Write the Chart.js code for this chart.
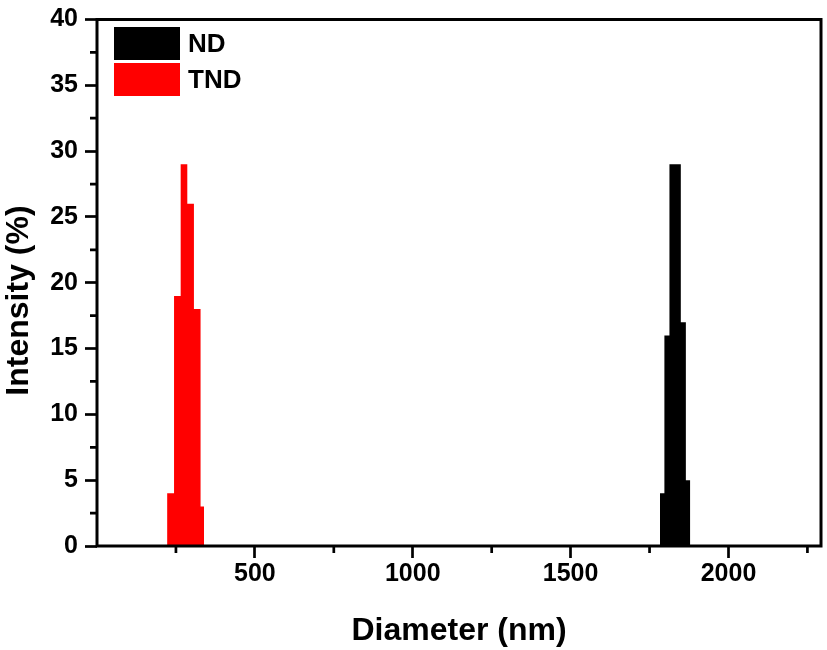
<!DOCTYPE html>
<html>
<head>
<meta charset="utf-8">
<script src="https://cdn.jsdelivr.net/npm/chart.js@4/dist/chart.umd.min.js"></script>
<style>
  html, body { margin: 0; padding: 0; background: #ffffff; }
  #wrap { width: 827px; height: 650px; }
</style>
</head>
<body>
<div id="wrap"><canvas id="c" width="827" height="650"></canvas></div>
<script>
// ---- data ----
const seriesNames = ['ND', 'TND'];
const seriesColors = ['#000000', '#ff0000'];
// histogram bin edges (nm) and intensities (%)
const ndBinEdges = [1783, 1797, 1813, 1849, 1865, 1879];
const ndIntensity = [4, 16, 29, 17, 5];
const tndBinEdges = [222, 244, 265, 286, 307, 328, 339];
const tndIntensity = [4, 19, 29, 26, 18, 3];
// axis ticks (labelled majors, unlabelled minors)
const xTickLabels = [500, 1000, 1500, 2000];
const xMinorTicks = [0, 250, 750, 1250, 1750, 2250];
const yTickLabels = [0, 5, 10, 15, 20, 25, 30, 35, 40];
const yMinorTicks = [2.5, 7.5, 12.5, 17.5, 22.5, 27.5, 32.5, 37.5];

function histPoints(edges, vals) {
  return edges.map((e, i) => ({ x: e, y: i < vals.length ? vals[i] : 0 }));
}

const FONT = "'Liberation Sans', Arial, Helvetica, sans-serif";

const framePlugin = {
  id: 'frame',
  afterDatasetsDraw(chart) {
    const { ctx, chartArea: a, scales } = chart;
    ctx.save();
    ctx.strokeStyle = '#000';
    ctx.lineWidth = 3;
    ctx.strokeRect(a.left, a.top, a.right - a.left, a.bottom - a.top);
    // minor ticks (shorter than the major ones)
    ctx.lineWidth = 2.7;
    ctx.beginPath();
    xMinorTicks.forEach(v => {
      if (v === 0) return;
      const px = scales.x.getPixelForValue(v);
      ctx.moveTo(px, a.bottom);
      ctx.lineTo(px, a.bottom + 7);
    });
    yMinorTicks.forEach(v => {
      const py = scales.y.getPixelForValue(v);
      ctx.moveTo(a.left, py);
      ctx.lineTo(a.left - 7, py);
    });
    ctx.stroke();
    ctx.restore();
  }
};

const legendPlugin = {
  id: 'insideLegend',
  afterDraw(chart) {
    const { ctx } = chart;
    ctx.save();
    ctx.font = 'bold 26px ' + FONT;
    ctx.textBaseline = 'middle';
    ctx.textAlign = 'left';
    chart.data.datasets.forEach((ds, i) => {
      const top = 27 + i * 36;
      ctx.fillStyle = ds.backgroundColor;
      ctx.fillRect(114, top, 66, 33);
      ctx.fillStyle = '#000';
      ctx.fillText(ds.label, 188, top + 17.5);
    });
    ctx.restore();
  }
};

new Chart(document.getElementById('c'), {
  type: 'line',
  data: {
    datasets: [
      {
        label: seriesNames[0],
        data: histPoints(ndBinEdges, ndIntensity),
        stepped: 'before',
        fill: 'origin',
        backgroundColor: seriesColors[0],
        borderColor: seriesColors[0],
        borderWidth: 0,
        pointRadius: 0
      },
      {
        label: seriesNames[1],
        data: histPoints(tndBinEdges, tndIntensity),
        stepped: 'before',
        fill: 'origin',
        backgroundColor: seriesColors[1],
        borderColor: seriesColors[1],
        borderWidth: 0,
        pointRadius: 0
      }
    ]
  },
  options: {
    responsive: false,
    animation: false,
    devicePixelRatio: 1,
    layout: { padding: { left: 0, right: 6, top: 13, bottom: 0 } },
    plugins: {
      legend: { display: false },
      tooltip: { enabled: false }
    },
    scales: {
      x: {
        type: 'linear',
        min: 0,
        max: 2293,
        bounds: 'data',
        afterBuildTicks(scale) {
          scale.ticks = xTickLabels.map(v => ({ value: v }));
        },
        afterFit(scale) { scale.height = 104; },
        border: { display: false },
        grid: {
          display: true,
          drawOnChartArea: false,
          drawTicks: true,
          tickLength: 12,
          tickWidth: 2.7,
          tickColor: '#000'
        },
        ticks: {
          autoSkip: false,
          maxRotation: 0,
          minRotation: 0,
          padding: 4,
          color: '#000',
          font: { family: FONT, size: 25, weight: 'bold', lineHeight: 1 },
          callback: v => String(v)
        },
        title: {
          display: true,
          text: 'Diameter (nm)',
          color: '#000',
          font: { family: FONT, size: 32, weight: 'bold', lineHeight: 1.2 },
          padding: { top: 0, bottom: 0 }
        }
      },
      y: {
        min: 0,
        max: 40,
        bounds: 'data',
        afterBuildTicks(scale) {
          scale.ticks = yTickLabels.map(v => ({ value: v }));
        },
        afterFit(scale) { scale.width = 97; },
        border: { display: false },
        grid: {
          display: true,
          drawOnChartArea: false,
          drawTicks: true,
          tickLength: 12,
          tickWidth: 2.7,
          tickColor: '#000'
        },
        ticks: {
          autoSkip: false,
          padding: 7,
          color: '#000',
          font: { family: FONT, size: 25, weight: 'bold', lineHeight: 1 },
          callback: v => String(v)
        },
        title: {
          display: true,
          text: 'Intensity (%)    ',
          color: '#000',
          font: { family: FONT, size: 32, weight: 'bold', lineHeight: 1.2 },
          padding: { top: 0, bottom: 0 }
        }
      }
    }
  },
  plugins: [framePlugin, legendPlugin]
});
</script>
</body>
</html>
